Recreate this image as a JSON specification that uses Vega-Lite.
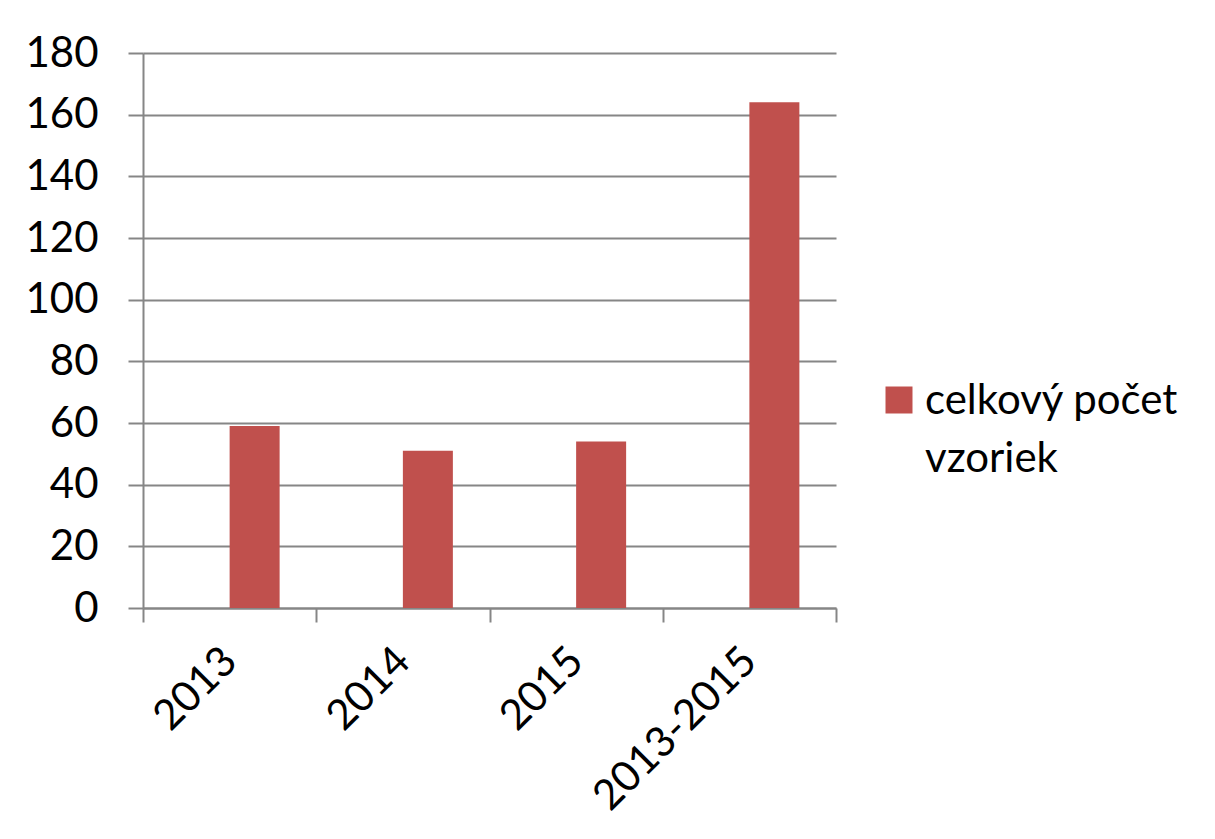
{
  "$schema": "https://vega.github.io/schema/vega-lite/v6.json",
  "autosize": {"type": "none"},
  "width": 693,
  "height": 555,
  "padding": {"left": 143, "top": 53, "right": 379, "bottom": 231},
  "background": "white",
  "data": {
    "values": [
      {"rok": "2013", "pocet": 59, "seria": "celkový počet vzoriek"},
      {"rok": "2014", "pocet": 51, "seria": "celkový počet vzoriek"},
      {"rok": "2015", "pocet": 54, "seria": "celkový počet vzoriek"},
      {"rok": "2013-2015", "pocet": 164, "seria": "celkový počet vzoriek"}
    ]
  },
  "mark": {"type": "bar", "size": 50, "xOffset": 25},
  "encoding": {
    "x": {
      "field": "rok",
      "type": "nominal",
      "sort": null,
      "scale": {"paddingInner": 0, "paddingOuter": 0},
      "axis": {
        "title": null,
        "tickBand": "extent",
        "labelAngle": -45,
        "labelAlign": "right",
        "labelBaseline": "middle",
        "labelPadding": 32,
        "labelLimit": 500,
        "tickSize": 14,
        "domainColor": "#868686",
        "tickColor": "#868686",
        "domainWidth": 2,
        "tickWidth": 2,
        "grid": false
      }
    },
    "y": {
      "field": "pocet",
      "type": "quantitative",
      "scale": {"domain": [0, 180], "nice": false},
      "axis": {
        "title": null,
        "values": [0, 20, 40, 60, 80, 100, 120, 140, 160, 180],
        "tickSize": 15,
        "labelPadding": 30,
        "domainColor": "#868686",
        "tickColor": "#868686",
        "gridColor": "#868686",
        "domainWidth": 2,
        "tickWidth": 2,
        "gridWidth": 2
      }
    },
    "color": {
      "field": "seria",
      "type": "nominal",
      "scale": {"range": ["#C0504D"]},
      "legend": {
        "title": null,
        "orient": "none",
        "legendX": 735,
        "legendY": 326,
        "symbolType": "square",
        "symbolSize": 729,
        "symbolStrokeWidth": 0,
        "labelFontSize": 42,
        "labelFont": "Lato",
        "labelColor": "black",
        "labelLimit": 400,
        "labelOffset": 5,
        "labelExpr": "['celkový počet', 'vzoriek']",
        "labelBaseline": "alphabetic",
        "encode": {
          "labels": {
            "update": {
              "lineHeight": {"value": 58},
              "dy": {"value": 14}
            }
          }
        }
      }
    }
  },
  "config": {
    "view": {"stroke": null},
    "axis": {
      "labelFont": "Lato",
      "labelFontSize": 42,
      "labelColor": "black"
    }
  }
}
